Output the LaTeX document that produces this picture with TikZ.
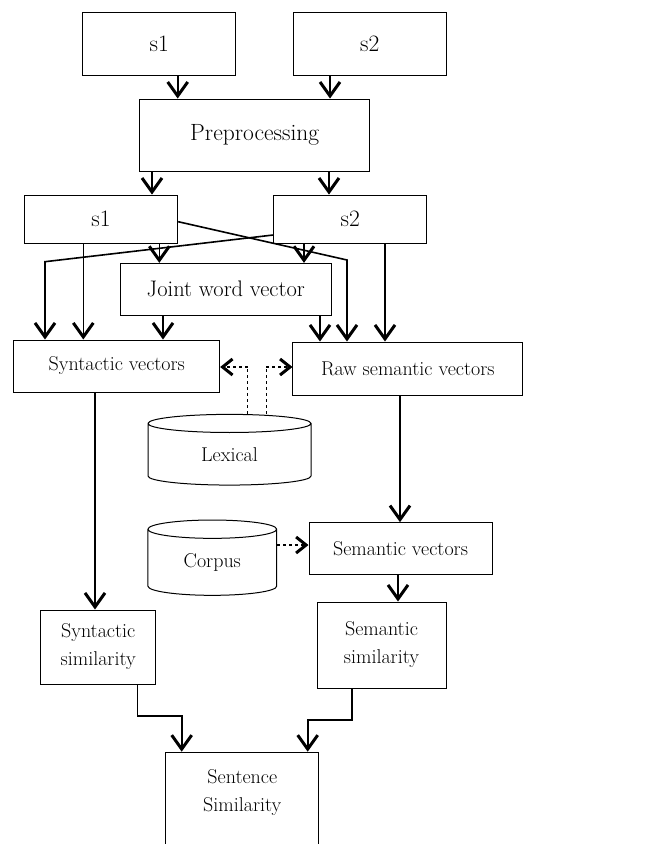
\documentclass[tikz,border=0pt]{standalone}
\usepackage{fontspec}
\usetikzlibrary{arrows.meta,shapes.geometric}
\tikzset{
    box/.style = {
        draw,
        rectangle,
        line width=1pt,
        inner sep=0pt,
        align=center,
        font=\fontsize{20}{28}\selectfont
    },
    bigbox/.style = {
        box,
        font=\fontsize{23.5}{28}\selectfont
    },
    store/.style = {
        draw,
        cylinder,
        shape border rotate=90,
        aspect=0.32,
        line width=1pt,
        inner sep=0pt,
        font=\fontsize{20}{28}\selectfont
    },
    flow/.style = {
        line width=1.6pt,
        -{Straight Barb[length=14pt,width=20pt,line width=3pt]}
    },
    dashflow/.style = {
        dashed,
        line width=1.8pt,
        -{Straight Barb[length=10pt,width=16pt,line width=3pt]}
    },
    dashlink/.style = {
        dashed,
        line width=0.8pt
    }
}

\begin{document}
\begin{tikzpicture}[x=1pt,y=-1pt]
    \useasboundingbox (0,0) rectangle (655,844);

    % Input sentences and preprocessing
    \node[bigbox, minimum width=153.3pt, minimum height=63.3pt] (topone) at (159.3,44.3) {s1};
    \node[bigbox, minimum width=153.3pt, minimum height=63.3pt] (toptwo) at (369.7,44.3) {s2};
    \node[bigbox, minimum width=230pt, minimum height=72.3pt] (prep) at (254.7,135.2) {Preprocessing};
    \node[bigbox, minimum width=153.4pt, minimum height=48.3pt] (midone) at (101,219.2) {s1};
    \node[bigbox, minimum width=153pt, minimum height=48.3pt] (midtwo) at (350.2,219.2) {s2};
    \node[bigbox, minimum width=211pt, minimum height=51.7pt, font=\fontsize{22.5}{28}\selectfont] (joint) at (225.8,289.2) {Joint word vector};

    % Vectors
    \node[box, minimum width=205.7pt, minimum height=52pt] (synvec) at (116.8,366) {Syntactic vectors};
    \node[box, minimum width=229.7pt, minimum height=53pt] (rawsem) at (407.8,368.5) {Raw semantic vectors};
    \node[box, minimum width=183pt, minimum height=52.3pt] (semvec) at (400.5,548.8) {Semantic vectors};

    % Stores
    \node[store, minimum width=163pt, minimum height=70.7pt] (lexical) at (229.5,454.5) {Lexical};
    \node[store, minimum width=128.7pt, minimum height=75.3pt] (corpus) at (212.3,562.5) {Corpus};

    % Similarities
    \node[box, minimum width=115pt, minimum height=74pt] (synsim) at (98.2,647) {Syntactic\\similarity};
    \node[box, minimum width=129pt, minimum height=86pt] (semsim) at (381.5,645) {Semantic\\similarity};
    \node[box, anchor=north, minimum width=153.3pt, inner ysep=17pt, text depth=80pt] (sent) at (242.3,751.7) {Sentence\\Similarity};

    % Solid connectors
    \draw[flow] (topone.south -| 177.7,0) -- (prep.north -| 177.7,0);
    \draw[flow] (toptwo.south -| 330,0) -- (prep.north -| 330,0);
    \draw[flow] (prep.south -| 152,0) -- (midone.north -| 152,0);
    \draw[flow] (prep.south -| 329,0) -- (midtwo.north -| 329,0);
    \draw[flow] (midone.south -| 159.3,0) -- (joint.north -| 159.3,0);
    \draw[flow] (midtwo.south -| 304,0) -- (joint.north -| 304,0);
    \draw[flow] (midone.south -| 83.3,0) -- (synvec.north -| 83.3,0);
    \draw[flow] (midtwo.south -| 385,0) -- (rawsem.north -| 385,0);
    \coordinate (crossone) at (347,260);
    \coordinate (crosstwo) at (45,261.7);
    \draw[flow] (midone.east |- 0,221.7) -- (crossone) -- (rawsem.north -| crossone);
    \draw[flow] (midtwo.west |- 0,235) -- (crosstwo) -- (synvec.north -| crosstwo);
    \draw[flow] (joint.south -| 163,0) -- (synvec.north -| 163,0);
    \draw[flow] (joint.south -| 320,0) -- (rawsem.north -| 320,0);
    \draw[flow] (synvec.south -| 95,0) -- (synsim.north -| 95,0);
    \draw[flow] (rawsem.south -| 400,0) -- (semvec.north -| 400,0);
    \draw[flow] (semvec.south -| 398,0) -- (semsim.north -| 398,0);
    \draw[flow] (synsim.south -| 137.3,0) -- (137.3,715.7) -- (181.7,715.7) -- (sent.north -| 181.7,0);
    \draw[flow] (semsim.south -| 352,0) -- (352,720) -- (307.7,720) -- (sent.north -| 307.7,0);

    % Dashed connectors
    \coordinate (lexleft) at (247.7,367);
    \coordinate (lexright) at (266,367);
    \draw[dashlink] (lexical.north -| lexleft) -- (lexleft);
    \draw[dashlink] (lexical.north -| lexright) -- (lexright);
    \draw[dashflow] (lexleft) -- (synvec.east |- lexleft);
    \draw[dashflow] (lexright) -- (rawsem.west |- lexright);
    \draw[dashflow] (corpus.east |- 0,545) -- (semvec.west |- 0,545);
\end{tikzpicture}
\end{document}
